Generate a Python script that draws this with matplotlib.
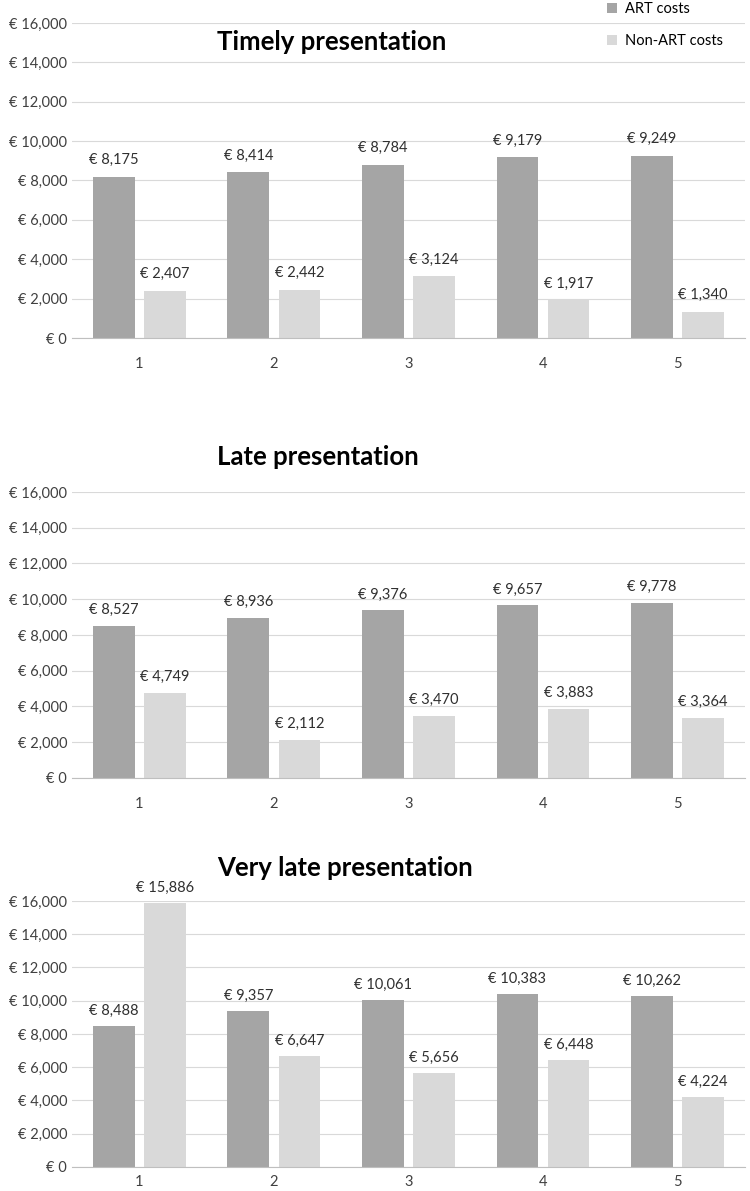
import matplotlib.pyplot as plt
import numpy as np

plt.rcParams['font.family'] = ['Lato', 'DejaVu Sans']

years = ['1', '2', '3', '4', '5']
titles = ['Timely presentation', 'Late presentation', 'Very late presentation']
art_costs = [
    [8175, 8414, 8784, 9179, 9249],
    [8527, 8936, 9376, 9657, 9778],
    [8488, 9357, 10061, 10383, 10262],
]
non_art_costs = [
    [2407, 2442, 3124, 1917, 1340],
    [4749, 2112, 3470, 3883, 3364],
    [15886, 6647, 5656, 6448, 4224],
]

dark = '#a5a5a5'
light = '#d9d9d9'
H = 1191.0

fig = plt.figure(figsize=(7.5, 11.91), dpi=100)
# axes positions (left, bottom, width, height) in figure fractions
boxes = [
    (0.096, 0.7162, 0.897, 0.2645),
    (0.096, 0.3468, 0.897, 0.2401),
    (0.096, 0.0202, 0.897, 0.2233),
]
title_y = [42, 457, 868]  # pixel rows from top
tick_pad = [14, 14, 6]
x = np.arange(len(years))
w = 0.31
for i in range(3):
    ax = fig.add_axes(boxes[i])
    b1 = ax.bar(x - 0.19, art_costs[i], w, color=dark, label='ART costs', zorder=2)
    b2 = ax.bar(x + 0.19, non_art_costs[i], w, color=light, label='Non-ART costs', zorder=2)
    for bars, vals in ((b1, art_costs[i]), (b2, non_art_costs[i])):
        for r, v in zip(bars, vals):
            ax.text(r.get_x() + r.get_width() / 2, v + 500, '€ {:,}'.format(v),
                    ha='center', va='bottom', fontsize=10.5, color='#303030')
    ax.set_xlim(-0.5, 4.5)
    ax.set_ylim(0, 16000)
    ax.set_yticks(range(0, 16001, 2000))
    ax.set_yticklabels(['€ {:,}'.format(t) for t in range(0, 16001, 2000)])
    ax.set_xticks(x)
    ax.set_xticklabels(years)
    ax.grid(axis='y', color='#d9d9d9', linewidth=0.8, zorder=0)
    for s in ['top', 'right', 'left']:
        ax.spines[s].set_visible(False)
    ax.spines['bottom'].set_color('#bfbfbf')
    ax.tick_params(axis='both', length=0, labelsize=10.5, labelcolor='#404040')
    ax.tick_params(axis='x', pad=tick_pad[i])
    fig.text(217 / 750, 1 - title_y[i] / H, titles[i], ha='left', va='center',
             fontsize=18.5, fontweight='bold', color='black')
    if i == 0:
        fig.legend(handles=[b1, b2], loc='upper left', bbox_to_anchor=(0.792, 1.009),
                   frameon=False, fontsize=10.5, handlelength=0.7, handleheight=0.7,
                   labelspacing=1.2, handletextpad=0.5)

fig.savefig('out.png', dpi=100)
